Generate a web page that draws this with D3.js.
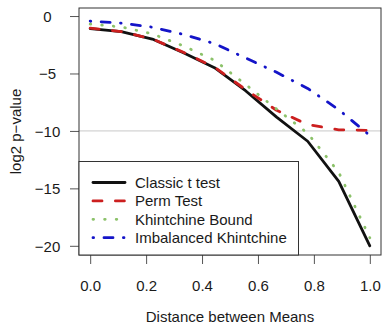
<!DOCTYPE html>
<html>
<head>
<meta charset="utf-8">
<script src="https://cdn.jsdelivr.net/npm/d3@7"></script>
<style>
  html, body { margin: 0; padding: 0; background: #fff; }
  svg { display: block; font-family: "Liberation Sans", Arial, Helvetica, sans-serif; }
</style>
</head>
<body>
<svg id="chart" width="383" height="326"></svg>
<script>
// ---- data ----
const xValues = [0, 1/9, 2/9, 3/9, 4/9, 5/9, 6/9, 7/9, 8/9, 1];
const classicT = [-1.1, -1.35, -2.0, -3.2, -4.5, -6.5, -8.8, -10.9, -14.4, -20.0];
const permTest = [-1.05, -1.35, -2.0, -3.15, -4.45, -6.4, -8.2, -9.45, -9.9, -9.95];
const khintchine = [-0.7, -0.95, -1.55, -2.6, -3.85, -5.95, -8.1, -10.2, -13.6, -19.3];
const imbalanced = [-0.45, -0.62, -0.97, -1.6, -2.4, -3.65, -4.9, -6.3, -8.15, -10.4];
const seriesNames = ["Classic t test", "Perm Test", "Khintchine Bound", "Imbalanced Khintchine"];
const xTicks = [0, 0.2, 0.4, 0.6, 0.8, 1.0];
const yTicks = [0, -5, -10, -15, -20];
const refLine = -10;
const xTitle = "Distance between Means";
const yTitle = "log2 p\u2212value";

// ---- styles ----
const styles = [
  { color: "#111111", dash: null, cap: "round" },
  { color: "#cc1f1f", dash: "9,13.4", cap: "round" },
  { color: "#8cc26a", dash: "0.6,11", cap: "round" },
  { color: "#1414c8", dash: "0.6,10.4,9,10.4", cap: "round" }
];
const allSeries = [classicT, permTest, khintchine, imbalanced];

const svg = d3.select("#chart");
const box = { left: 79, right: 381, top: 8, bottom: 255 };

const x = d3.scaleLinear().domain([-0.04, 1.04]).range([box.left, box.right]);
const y = d3.scaleLinear().domain([-20.8, 0.7]).range([box.bottom, box.top]);

// reference line
svg.append("line")
  .attr("x1", box.left).attr("x2", box.right)
  .attr("y1", y(refLine)).attr("y2", y(refLine))
  .attr("stroke", "#c8c8c8").attr("stroke-width", 1);

// series lines
const line = d3.line().x((d, i) => x(xValues[i])).y(d => y(d));
allSeries.forEach((s, k) => {
  svg.append("path")
    .datum(s)
    .attr("d", line)
    .attr("fill", "none")
    .attr("stroke", styles[k].color)
    .attr("stroke-width", 2.8)
    .attr("stroke-linecap", styles[k].cap)
    .attr("stroke-linejoin", "round")
    .attr("stroke-dasharray", styles[k].dash);
});

// axes
const minus = d => (d < 0 ? "\u2212" + Math.abs(d) : String(d));
const xAxis = svg.append("g")
  .attr("transform", `translate(0,${box.bottom})`)
  .call(d3.axisBottom(x).tickValues(xTicks).tickSize(9).tickSizeOuter(0).tickPadding(0)
    .tickFormat(d3.format(".1f")));
xAxis.select(".domain").remove();
xAxis.selectAll("line").attr("stroke", "#555");
xAxis.selectAll("text")
  .attr("y", 36).attr("dy", null)
  .attr("font-size", 15).attr("fill", "#1a1a1a")
  .style("font-family", "'Liberation Sans', Arial, sans-serif");

const yAxis = svg.append("g")
  .attr("transform", `translate(${box.left},0)`)
  .call(d3.axisLeft(y).tickValues(yTicks).tickSize(9).tickSizeOuter(0).tickFormat(minus));
yAxis.select(".domain").remove();
yAxis.selectAll("line").attr("stroke", "#555");
yAxis.selectAll("text")
  .attr("x", 47.5 - box.left)
  .attr("text-anchor", "middle")
  .attr("dy", "0.36em")
  .attr("font-size", 15).attr("fill", "#1a1a1a")
  .style("font-family", "'Liberation Sans', Arial, sans-serif");

// box
svg.append("rect")
  .attr("x", box.left).attr("y", box.top)
  .attr("width", box.right - box.left).attr("height", box.bottom - box.top)
  .attr("fill", "none").attr("stroke", "#333").attr("stroke-width", 1);

// axis titles
svg.append("text")
  .attr("x", (x(0) + x(1)) / 2).attr("y", 322)
  .attr("text-anchor", "middle").attr("font-size", 15).attr("fill", "#1a1a1a")
  .text(xTitle);
svg.append("text")
  .attr("transform", `translate(15,${(box.top + box.bottom) / 2}) rotate(-90)`)
  .attr("text-anchor", "middle").attr("dominant-baseline", "central")
  .attr("font-size", 15).attr("fill", "#1a1a1a")
  .text(yTitle);

// legend
const legendTop = 161.5;
const legend = svg.append("g");
legend.append("rect")
  .attr("x", box.left).attr("y", legendTop)
  .attr("width", 298.5 - box.left).attr("height", box.bottom - legendTop)
  .attr("fill", "#fff").attr("stroke", "#333").attr("stroke-width", 1);
const rowY = i => 182.5 + i * 18.4;
seriesNames.forEach((name, i) => {
  legend.append("line")
    .attr("x1", 93).attr("x2", 125)
    .attr("y1", rowY(i)).attr("y2", rowY(i))
    .attr("stroke", styles[i].color)
    .attr("stroke-width", 2.8)
    .attr("stroke-linecap", styles[i].cap)
    .attr("stroke-dasharray", styles[i].dash);
  legend.append("text")
    .attr("x", 135).attr("y", rowY(i))
    .attr("dy", "0.36em")
    .attr("font-size", 15).attr("fill", "#1a1a1a")
    .text(name);
});
</script>
</body>
</html>
